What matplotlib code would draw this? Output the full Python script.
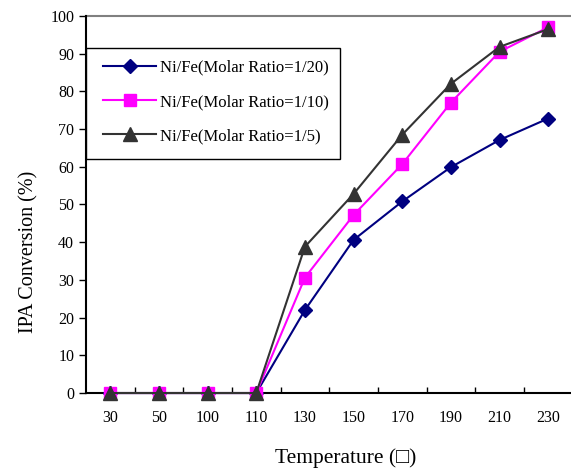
import numpy as np
import matplotlib
matplotlib.use("Agg")
import matplotlib.pyplot as plt
from matplotlib.ticker import FixedLocator
from matplotlib.patches import Rectangle

plt.rcParams['font.family'] = ['Liberation Serif', 'DejaVu Serif']

temps = ['30', '50', '100', '110', '130', '150', '170', '190', '210', '230']
ratio_1_20 = [0, 0, 0, 0, 22, 40.6, 50.8, 59.9, 67.1, 72.8]
ratio_1_10 = [0, 0, 0, 0, 30.6, 47.2, 60.7, 77, 90.5, 97]
ratio_1_5 = [0, 0, 0, 0, 38.8, 52.8, 68.5, 82, 91.8, 96.5]

fig = plt.figure(figsize=(5.71, 4.69), dpi=100)
ax = fig.add_axes([0.1506, 0.162, 0.852, 0.804])

x = np.arange(len(temps))
ax.plot(x, ratio_1_20, color='#000080', marker='D', markersize=7.5, linewidth=1.5,
        label='Ni/Fe(Molar Ratio=1/20)', clip_on=False, zorder=3)
ax.plot(x, ratio_1_10, color='#FF00FF', marker='s', markersize=8.5, linewidth=1.5,
        label='Ni/Fe(Molar Ratio=1/10)', clip_on=False, zorder=4)
ax.plot(x, ratio_1_5, color='#333333', marker='^', markersize=10.5, linewidth=1.5,
        label='Ni/Fe(Molar Ratio=1/5)', clip_on=False, zorder=5)

ax.set_xlim(-0.5, len(temps) - 0.5)
ax.set_ylim(0, 100)
ax.set_yticks(np.arange(0, 101, 10))
ax.set_xticks(x)
ax.set_xticklabels(temps)
ax.xaxis.set_minor_locator(FixedLocator(np.arange(0.5, len(temps) - 0.5, 1)))
ax.tick_params(axis='x', which='major', length=0, pad=12, labelsize=11.5)
ax.tick_params(axis='x', which='minor', direction='in', length=4, width=1)
ax.tick_params(axis='y', direction='out', length=5, width=1, labelsize=11.5)

ax.spines['right'].set_visible(False)
ax.spines['top'].set_color('#808080')
ax.spines['top'].set_linewidth(1.5)
ax.spines['left'].set_linewidth(1.5)
ax.spines['bottom'].set_linewidth(1.5)
ax.spines['left'].set_zorder(6)

ax.set_xlabel('Temperature (\u25a1)', fontsize=15.5)
ax.set_ylabel('IPA Conversion (%)', fontsize=14.5)
ax.xaxis.set_label_coords(0.533, -0.146)
ax.yaxis.set_label_coords(-0.097, 0.374)

# legend frame drawn separately so the entries can sit a bit further right
ax.add_patch(Rectangle((0, 0.621), 0.523, 0.294, transform=ax.transAxes,
                       facecolor='white', edgecolor='black', linewidth=1.0,
                       zorder=7, clip_on=False))
leg = ax.legend(loc='upper left', bbox_to_anchor=(0.011, 0.621, 0.512, 0.294),
                mode='expand', borderaxespad=0, frameon=False,
                fontsize=12, numpoints=1, handlelength=3.2, handletextpad=0.2,
                labelspacing=1.1, borderpad=0.7)
leg.set_zorder(8)

fig.savefig('out.png', dpi=100)
